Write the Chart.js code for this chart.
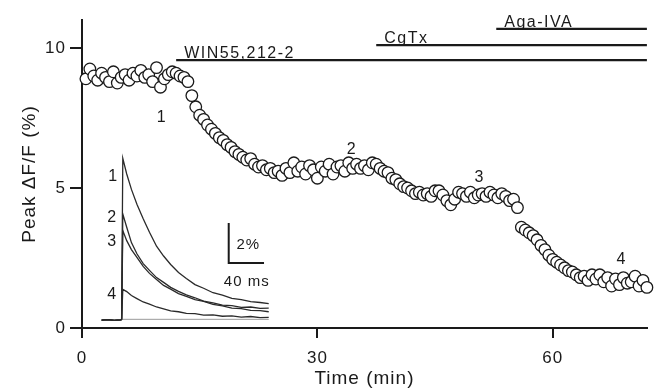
<!DOCTYPE html>
<html>
<head>
<meta charset="utf-8">
<script src="https://cdn.jsdelivr.net/npm/chart.js@4.4.1/dist/chart.umd.min.js"></script>
<style>
  html, body { margin: 0; padding: 0; background: #fff; }
</style>
</head>
<body>
<canvas id="peakChart" width="654" height="391"></canvas>
<script>
// Time course of peak dF/F (one sample every 30 s)
const timeMin = [
  0.5, 1, 1.5, 2, 2.5, 3, 3.5, 4, 4.5, 5,
  5.5, 6, 6.5, 7, 7.5, 8, 8.5, 9, 9.5, 10,
  10.5, 11, 11.5, 12, 12.5, 13, 13.5, 14, 14.5, 15,
  15.5, 16, 16.5, 17, 17.5, 18, 18.5, 19, 19.5, 20,
  20.5, 21, 21.5, 22, 22.5, 23, 23.5, 24, 24.5, 25,
  25.5, 26, 26.5, 27, 27.5, 28, 28.5, 29, 29.5, 30,
  30.5, 31, 31.5, 32, 32.5, 33, 33.5, 34, 34.5, 35,
  35.5, 36, 36.5, 37, 37.5, 38, 38.5, 39, 39.5, 40,
  40.5, 41, 41.5, 42, 42.5, 43, 43.5, 44, 44.5, 45,
  45.5, 46, 46.5, 47, 47.5, 48, 48.5, 49, 49.5, 50,
  50.5, 51, 51.5, 52, 52.5, 53, 53.5, 54, 54.5, 55,
  55.5, 56, 56.5, 57, 57.5, 58, 58.5, 59, 59.5, 60,
  60.5, 61, 61.5, 62, 62.5, 63, 63.5, 64, 64.5, 65,
  65.5, 66, 66.5, 67, 67.5, 68, 68.5, 69, 69.5, 70,
  70.5, 71, 71.5, 72
];
const peakDF = [
  8.9, 9.25, 9.0, 8.85, 9.1, 8.95, 8.8, 9.15, 8.75, 8.95,
  9.05, 8.85, 9.1, 9.0, 9.2, 8.95, 9.05, 8.8, 9.3, 8.6,
  8.9, 9.05, 9.15, 9.1, 9.0, 8.95, 8.8, 8.3, 7.9, 7.6,
  7.45, 7.25, 7.1, 6.95, 6.8, 6.7, 6.55, 6.45, 6.3, 6.2,
  6.1, 6.0, 6.05, 5.85, 5.75, 5.8, 5.65, 5.7, 5.55, 5.6,
  5.45, 5.7, 5.55, 5.9, 5.6, 5.75, 5.5, 5.8, 5.65, 5.35,
  5.75, 5.6, 5.85, 5.5, 5.75, 5.8, 5.6, 5.9, 5.7, 5.85,
  5.7, 5.8, 5.65, 5.9, 5.85, 5.7, 5.6, 5.55, 5.35, 5.3,
  5.15, 5.05, 5.0, 4.9, 4.8, 4.85, 4.75, 4.8, 4.7, 4.9,
  4.9, 4.75, 4.55, 4.4, 4.6, 4.85, 4.8, 4.7, 4.85, 4.65,
  4.75, 4.8, 4.7, 4.85, 4.75, 4.65, 4.8, 4.7, 4.55, 4.6,
  4.3, 3.6, 3.5, 3.4, 3.3, 3.15, 2.95, 2.8, 2.6, 2.45,
  2.35, 2.25, 2.15, 2.05, 2.0, 1.9, 1.8, 1.85, 1.7, 1.9,
  1.75, 1.9, 1.65, 1.8, 1.5, 1.75, 1.55, 1.8, 1.6, 1.65,
  1.85, 1.5, 1.7, 1.45
];

// Drug application bars
const drugNames = ['WIN55,212-2', 'CgTx', 'Aga-IVA'];
const drugStart = [12.0, 37.5, 52.8];
const drugEnd = [72, 72, 72];
const drugLevel = [9.57, 10.1, 10.68];

// Inset: example transients 1-4, drawn in the panel's own units
const insetTime = [2.5, 3.3, 4.1, 4.9, 5.05, 5.2, 5.7, 6.3, 7.0, 7.8, 8.6, 9.5, 10.4,
  11.3, 12.3, 13.3, 14.4, 15.5, 16.7, 17.9, 19.1, 20.3, 21.5, 22.7, 23.8];
const trace1 = [0.28, 0.3, 0.27, 0.29, 0.3, 6.06, 5.5, 4.95, 4.42, 3.9, 3.42, 2.92, 2.57,
  2.27, 1.98, 1.77, 1.55, 1.42, 1.26, 1.17, 1.06, 1.01, 0.94, 0.91, 0.87];
const trace2 = [0.28, 0.3, 0.27, 0.29, 0.3, 4.07, 3.6, 3.05, 2.65, 2.3, 2.06, 1.8, 1.63,
  1.45, 1.31, 1.18, 1.08, 0.96, 0.9, 0.82, 0.8, 0.74, 0.75, 0.7, 0.71];
const trace3 = [0.28, 0.3, 0.27, 0.29, 0.3, 3.48, 3.12, 2.8, 2.52, 2.2, 1.95, 1.73, 1.52,
  1.39, 1.23, 1.13, 1.01, 0.95, 0.84, 0.79, 0.71, 0.69, 0.63, 0.62, 0.58];
const trace4 = [0.28, 0.3, 0.27, 0.29, 0.3, 1.38, 1.3, 1.16, 1.05, 0.93, 0.85, 0.75, 0.68,
  0.61, 0.58, 0.52, 0.51, 0.46, 0.47, 0.42, 0.43, 0.39, 0.41, 0.37, 0.38];
const baseTime = [5.2, 23.8];
const baseLevel = [0.31, 0.31];
const scaleBarX = [18.7, 18.7, 23.2];
const scaleBarY = [3.75, 2.32, 2.32];

// Text labels (trace numbers, scale bar)
const noteText = ['1', '2', '3', '4', '1', '2', '3', '4', '2%', '40 ms'];
const noteX = [3.9, 3.8, 3.8, 3.8, 10.1, 34.3, 50.6, 68.7, 21.2, 21.0];
const noteY = [5.39, 3.93, 3.07, 1.21, 7.5, 6.36, 5.36, 2.43, 2.96, 1.64];

const xTicks = [0, 30, 60];
const yTicks = [0, 5, 10];

const FONT = '"Liberation Sans", Arial, Helvetica, sans-serif';
const INK = '#1a1a1a';

const toPoints = (xs, ys) => xs.map((x, i) => ({ x, y: ys[i] }));

const lineSet = (data, color, width) => ({
  type: 'line',
  data,
  showLine: true,
  borderColor: color,
  borderWidth: width,
  pointRadius: 0,
  fill: false,
  tension: 0,
  clip: false,
});

const datasets = [
  {
    label: 'Peak dF/F',
    data: toPoints(timeMin, peakDF),
    showLine: false,
    pointRadius: 5.8,
    pointBorderWidth: 1.3,
    pointBorderColor: INK,
    pointBackgroundColor: '#fff',
    clip: false,
  },
  ...drugNames.map((name, i) =>
    lineSet(toPoints([drugStart[i], drugEnd[i]], [drugLevel[i], drugLevel[i]]), INK, 2.2)
  ),
  lineSet(toPoints(baseTime, baseLevel), '#9a9a9a', 1),
  ...[trace1, trace2, trace3, trace4].map((tr) => lineSet(toPoints(insetTime, tr), '#2a2a2a', 1.3)),
  lineSet(toPoints(scaleBarX, scaleBarY), INK, 2),
];

const drawText = (ctx, text, x, y, size, align, spacing, baseline) => {
  ctx.save();
  ctx.font = `${size}px ${FONT}`;
  ctx.fillStyle = INK;
  ctx.textAlign = align;
  ctx.textBaseline = baseline || 'middle';
  ctx.letterSpacing = spacing + 'px';
  ctx.fillText(text, x, y);
  ctx.restore();
};

const textPlugin = {
  id: 'textPlugin',
  beforeDraw: (chart) => {
    chart.ctx.letterSpacing = '1px';
  },
  afterDatasetsDraw: (chart) => {
    const { ctx, scales } = chart;
    const { x, y } = scales;
    drugNames.forEach((name, i) => {
      drawText(ctx, name, x.getPixelForValue(drugStart[i]) + 8, y.getPixelForValue(drugLevel[i]) - 2, 16, 'left', 1.5, 'alphabetic');
    });
    noteText.forEach((t, i) => {
      const small = t.length > 1;
      drawText(ctx, t, x.getPixelForValue(noteX[i]), y.getPixelForValue(noteY[i]), small ? 15 : 16, 'center', small ? 1 : 0);
    });
  },
};

const axisCommon = {
  type: 'linear',
  grid: { drawOnChartArea: false, drawTicks: true, color: INK, lineWidth: 2, tickColor: INK, tickWidth: 2 },
  border: { display: true, color: INK, width: 2 },
};

new Chart(document.getElementById('peakChart'), {
  type: 'scatter',
  data: { datasets },
  options: {
    responsive: false,
    animation: false,
    devicePixelRatio: 1,
    layout: { padding: { top: 20, right: 2, left: 0, bottom: 0 } },
    plugins: { legend: { display: false }, tooltip: { enabled: false } },
    scales: {
      x: {
        ...axisCommon,
        min: 0,
        max: 72,
        grid: { ...axisCommon.grid, tickLength: 10 },
        afterBuildTicks: (s) => { s.ticks = xTicks.map((v) => ({ value: v })); },
        afterFit: (s) => { s.height = 63; },
        ticks: { color: INK, font: { family: FONT, size: 17 }, padding: 10, maxRotation: 0 },
        title: { display: true, text: 'Time (min)', color: INK, font: { family: FONT, size: 19 }, padding: { top: 0, bottom: 1 } },
      },
      y: {
        ...axisCommon,
        min: 0,
        max: 11,
        grid: { ...axisCommon.grid, tickLength: 12 },
        afterBuildTicks: (s) => { s.ticks = yTicks.map((v) => ({ value: v })); },
        afterFit: (s) => { s.width = 82; },
        ticks: { color: INK, font: { family: FONT, size: 17 }, padding: 4 },
        title: { display: true, text: 'Peak ΔF/F (%)', color: INK, font: { family: FONT, size: 19 }, padding: { top: 18, bottom: 0 } },
      },
    },
  },
  plugins: [textPlugin],
});
</script>
</body>
</html>
